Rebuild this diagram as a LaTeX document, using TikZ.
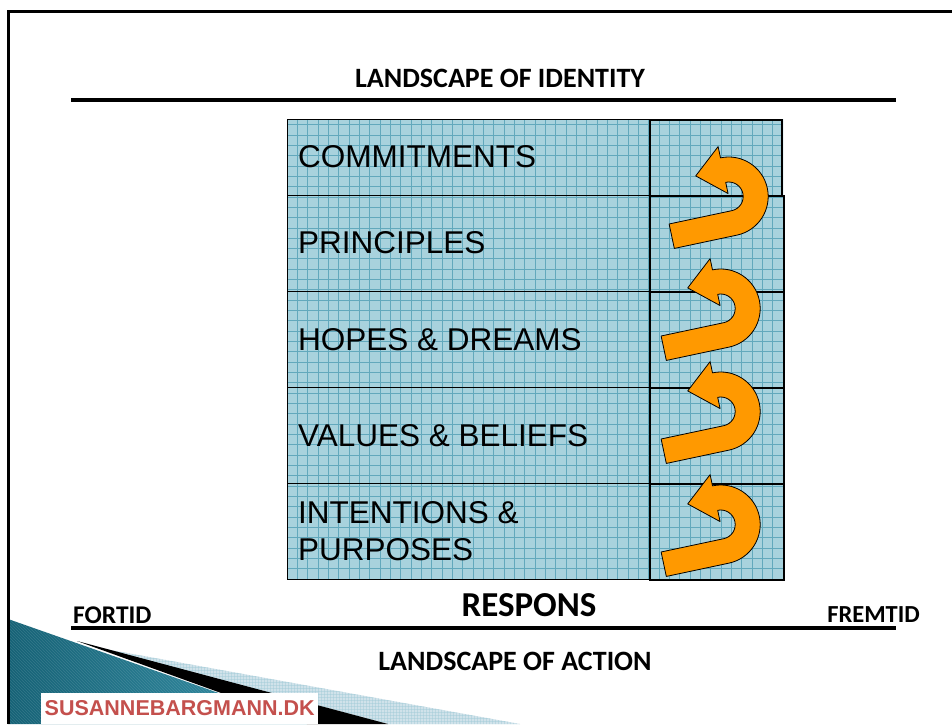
\documentclass[tikz,border=0pt]{standalone}
\usepackage{fontspec}
\setmainfont{Liberation Sans}
\newfontfamily\headfont{Carlito}
\usetikzlibrary{patterns}
\definecolor{gridbg}{RGB}{168,210,221}
\definecolor{gridln}{RGB}{98,168,188}
\definecolor{arroworange}{RGB}{255,153,0}
\definecolor{tealdark}{RGB}{22,98,118}
\definecolor{teallight}{RGB}{58,148,170}
\definecolor{lightband}{RGB}{208,226,234}
\definecolor{brandred}{RGB}{196,80,77}
\begin{document}
\begin{tikzpicture}[x=1pt,y=1pt,
  rowbox/.style={draw=black, line width=1pt, inner sep=0pt, anchor=north west},
  rightbox/.style={draw=black, line width=1.6pt, inner sep=0pt, anchor=north west, minimum width=134pt},
  rowlabel/.style={anchor=west, inner sep=0pt, font=\fontsize{31.5}{37}\selectfont, align=left},
  heading/.style={font=\headfont\bfseries\fontsize{28}{30}\selectfont, inner sep=0pt},
  rulethick/.style={line width=4pt},
  uturn/.style={fill=arroworange, draw=black, line width=0.8pt, line join=round},
]
\useasboundingbox (0,0) rectangle (952,724);
\fill[white] (0,0) rectangle (952,724);

% bottom-left decoration
\shade[left color=tealdark, right color=teallight] (8,105) -- (307,0) -- (8,0) -- cycle;
\fill[pattern=north west lines, pattern color=white, opacity=0.12] (8,105) -- (307,0) -- (8,0) -- cycle;
\fill[lightband] (105,75) -- (520,0) -- (388,0) -- cycle;
\fill[pattern=grid, pattern color=gridln!60, opacity=0.45] (105,75) -- (520,0) -- (388,0) -- cycle;
\fill[black] (77,83) -- (388,0) -- (307,0) -- cycle;

% frame
\draw[line width=3pt] (8,0) -- (8,712) -- (952,712);

% grid background
\fill[gridbg] (287,145) rectangle (783,605);
\begin{scope}
\clip (287,145) rectangle (783,605);
\draw[gridln, line width=0.55pt, step=10.33pt, shift={(287,145)}] (0,0) grid (500,460);
\end{scope}

% left column boxes
\node[rowbox, minimum width=362pt, minimum height=76pt] (r1) at (287,605) {};
\node[rowbox, minimum width=362pt, minimum height=96pt] (r2) at (287,529) {};
\node[rowbox, minimum width=362pt, minimum height=96pt] (r3) at (287,433) {};
\node[rowbox, minimum width=362pt, minimum height=96pt] (r4) at (287,337) {};
\node[rowbox, minimum width=362pt, minimum height=96pt] (r5) at (287,241) {};
% right column boxes
\node[rightbox, minimum width=132pt, minimum height=76pt] (r1b) at (649,605) {};
\node[rightbox, minimum height=96pt] (r2b) at (649,529) {};
\node[rightbox, minimum height=96pt] (r3b) at (649,433) {};
\node[rightbox, minimum height=96pt] (r4b) at (649,337) {};
\node[rightbox, minimum height=96pt] (r5b) at (649,241) {};

% labels
\node[rowlabel] (l1) at (298,567) {COMMITMENTS};
\node[rowlabel] (l2) at (298,481) {PRINCIPLES};
\node[rowlabel] (l3) at (298,384) {HOPES \& DREAMS};
\node[rowlabel] (l4) at (298,288) {VALUES \& BELIEFS};
\node[rowlabel] (l5) at (298,193) {INTENTIONS \&\\PURPOSES};

% u-turn arrows
\foreach \cx/\cy in {728.7/527.5, 720.7/415.5, 720.7/312.5, 720.7/199.5} {
  \draw[uturn, shift={(\cx,\cy)}, rotate=12]
    (-64,-39.5) -- (0,-39.5) arc[start angle=-90, end angle=90, radius=39.5pt]
    -- (0,51) -- (-28,27) -- (0,3) -- (0,14.5)
    arc[start angle=90, end angle=-90, radius=14.5pt]
    -- (-64,-14.5) -- cycle;
}

% headings and rules
\node[heading] (ident) at (500,646) {LANDSCAPE OF IDENTITY};
\coordinate (topL) at (71,624);
\coordinate (topR) at (896,624);
\draw[rulethick] (topL) -- (topR);

\node[heading, font=\headfont\bfseries\fontsize{35}{38}\selectfont] (respons) at (529,119) {RESPONS};
\node[heading, font=\headfont\bfseries\fontsize{25.5}{27}\selectfont, anchor=west] (fortid) at (73,109) {FORTID};
\node[heading, font=\headfont\bfseries\fontsize{24.5}{26}\selectfont, anchor=east] (fremtid) at (920,109) {FREMTID};
\coordinate (botL) at (71,96);
\coordinate (botR) at (896,96);
\draw[rulethick] (botL) -- (botR);
\node[heading] (action) at (515,63) {LANDSCAPE OF ACTION};

% brand box
\node[fill=white, minimum width=277pt, minimum height=31pt, anchor=south west, inner sep=0pt] (brandbox) at (41,0) {};
\node[font=\bfseries\fontsize{21.5}{24}\selectfont, text=brandred, inner sep=0pt] (brand) at (brandbox.center) {SUSANNEBARGMANN.DK};
\end{tikzpicture}
\end{document}
